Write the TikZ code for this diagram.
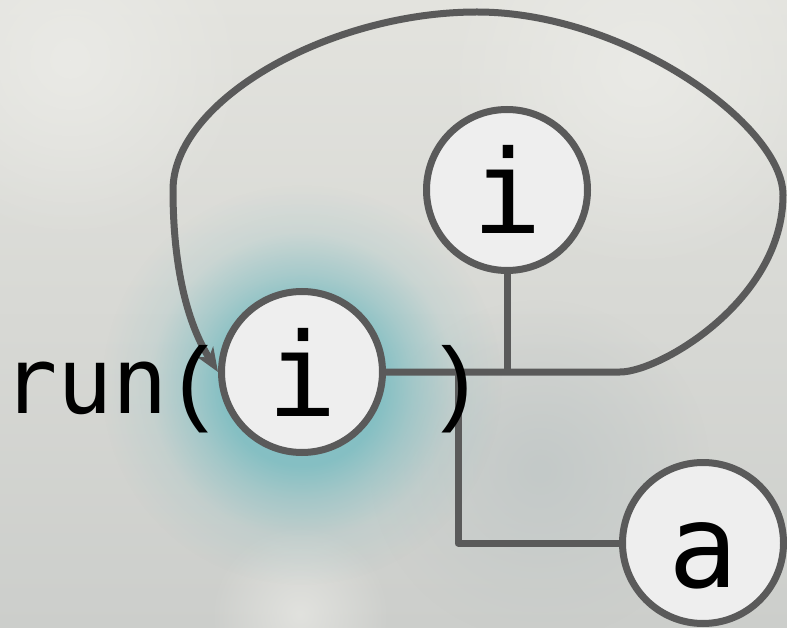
\documentclass[tikz,border=0pt]{standalone}
\usepackage{fontspec}
\newfontfamily\codefont{DejaVu Sans Mono}
\newfontfamily\parenfont{Liberation Mono}
\usetikzlibrary{arrows.meta,fadings}
\definecolor{edgec}{HTML}{5A5A5A}
\definecolor{nodefill}{HTML}{EEEEEE}
\definecolor{glowc}{HTML}{78BCC1}
\definecolor{bgtop}{HTML}{E3E3DE}
\definecolor{bgbot}{HTML}{CCCECB}
\definecolor{lightspot}{HTML}{EAEAE6}
\definecolor{darkspot}{HTML}{C3C9C8}
\pgfdeclareradialshading{glowsh}{\pgfpoint{0bp}{0bp}}{color(0bp)=(white); color(10bp)=(white); color(14bp)=(black!40); color(19bp)=(black!82); color(25bp)=(black); color(50bp)=(black)}
\pgfdeclarefading{glowfade}{\pgfuseshading{glowsh}}
\tikzfading[name=softfade, inner color=transparent!0, outer color=transparent!100]
\pgfdeclarelayer{bg}
\pgfdeclarelayer{edges}
\pgfsetlayers{bg,edges,main}
\begin{document}
\begin{tikzpicture}[x=1pt,y=-1pt,
  conn/.style={draw=edgec,line width=7pt,line join=round},
  circ/.style={circle,draw=edgec,fill=nodefill,line width=7pt,minimum size=161pt,inner sep=0pt,
    font=\codefont\fontsize{116}{116}\selectfont,text height=88pt,text depth=0pt},
  code/.style={font=\codefont\fontsize{92}{92}\selectfont,inner sep=0pt,text=black},
  paren/.style={font=\parenfont\fontsize{94}{94}\selectfont,inner sep=0pt,text=black}]
\useasboundingbox (0,0) rectangle (787,628);
\begin{pgfonlayer}{bg}
\shade[top color=bgtop,bottom color=bgbot] (0,0) rectangle (787,628);
\fill[lightspot,path fading=softfade] (70,60) circle (180);
\fill[lightspot,path fading=softfade] (640,70) circle (200);
\fill[lightspot,fill opacity=0.7,path fading=softfade] (300,615) circle (90);
\fill[darkspot,path fading=softfade] (540,470) circle (170);
\fill[glowc,fill opacity=0.85,path fading=glowfade] (302,385) circle (200);
\end{pgfonlayer}

\node[circ] (L) at (302,372) {i};
\node[circ] (T) at (507,190) {i};
\node[circ] (A) at (703,543) {a};
\coordinate (J) at (458,372);

\begin{pgfonlayer}{edges}
\draw[conn,-{Stealth[length=24pt,width=19pt,inset=7pt]}] (L.east) -- (620,372)
  .. controls (660,372) and (783,300) .. (783,195)
  .. controls (783,125) and (625,12) .. (477,12)
  .. controls (330,12) and (173,100) .. (173,190)
  .. controls (173,260) and (185,320) .. (L.west);
\draw[conn] (T.south) -- (T.south |- L.east);
\draw[conn] (J) |- (A.west);
\end{pgfonlayer}

\node[code,anchor=base west] (run) at (2,413) {run};
\node[paren,anchor=base west] (lp) at (167,413) {(};
\node[paren,anchor=base west] (rp) at (426,413) {)};
\end{tikzpicture}
\end{document}
